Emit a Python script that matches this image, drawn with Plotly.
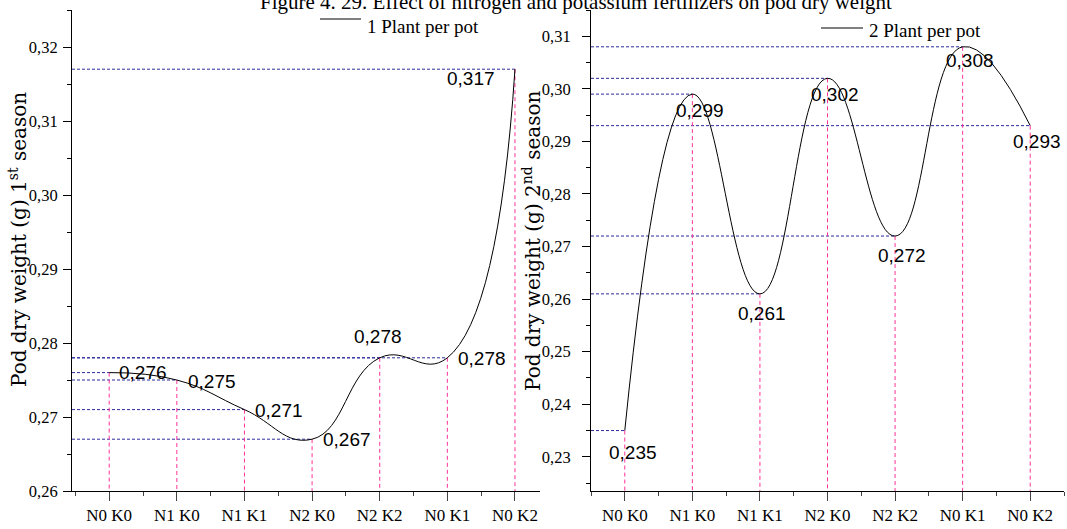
import plotly.graph_objects as go

# ---------------- data ----------------
categories = ["N0 K0", "N1 K0", "N1 K1", "N2 K0", "N2 K2", "N0 K1", "N0 K2"]
season1 = [0.276, 0.275, 0.271, 0.267, 0.278, 0.278, 0.317]   # 1 plant per pot
season2 = [0.235, 0.299, 0.261, 0.302, 0.272, 0.308, 0.293]   # 2 plants per pot
series1_name = "1 Plant per pot"
series2_name = "2 Plant per pot"
title_text = "Figure 4. 29. Effect of nitrogen and potassium fertilizers on pod dry weight"
ytitle1 = "Pod dry weight (g) 1<sup>st</sup> season"
ytitle2 = "Pod dry weight (g) 2<sup>nd</sup> season"

# ---------------- styles ----------------
W, H = 1067, 529
M_T, M_B = 10, 38
PH = H - M_T - M_B
xr1 = [0.45, 7.37]
xr2 = [0.5, 7.5]
yr1 = [0.26, 0.325]
yr2 = [0.2235, 0.315]
navy = "#2a2a9c"
pink = "#ff3399"
serif = "Liberation Serif, Times New Roman, serif"
wserif = "DejaVu Serif, serif"
sans = "Liberation Sans, Arial, sans-serif"

# label placement (xanchor, xshift, yshift) per point
lab1 = [("left", 8, 0), ("left", 9, -1), ("left", 9, -1), ("left", 9, 0),
        ("center", -2, 21), ("left", 9, -1), ("right", -18, -9)]
lab2 = [("center", 8, -22), ("center", 8, -16), ("center", 2, -20), ("center", 7, -16),
        ("center", 7, -19), ("center", 7, -14), ("center", 7, -16)]

xs = list(range(1, len(categories) + 1))


def fmt(v):
    return f"{v:.3f}".replace(".", ",")


fig = go.Figure()


def add_panel(vals, xr, yr, xa, ya, labs, name):
    hx, hy, vx, vy = [], [], [], []
    for x, v in zip(xs, vals):
        hx += [xr[0], x, None]
        hy += [v, v, None]
        vx += [x, x, None]
        vy += [v, yr[0], None]
    fig.add_trace(go.Scatter(x=hx, y=hy, mode="lines", xaxis=xa, yaxis=ya, showlegend=False,
                             hoverinfo="skip", line=dict(color=navy, width=1, dash="3px,2px")))
    fig.add_trace(go.Scatter(x=vx, y=vy, mode="lines", xaxis=xa, yaxis=ya, showlegend=False,
                             hoverinfo="skip", line=dict(color=pink, width=1, dash="4px,3px")))
    fig.add_trace(go.Scatter(x=xs, y=vals, mode="lines", xaxis=xa, yaxis=ya, name=name,
                             showlegend=False,
                             line=dict(color="black", width=1, shape="spline", smoothing=1.3)))
    for x, v, (anc, dx, dy) in zip(xs, vals, labs):
        fig.add_annotation(x=x, y=v, xref=xa, yref=ya, text=fmt(v), showarrow=False,
                           xanchor=anc, yanchor="middle", xshift=dx, yshift=dy,
                           font=dict(family=sans, size=19, color="black"))


add_panel(season1, xr1, yr1, "x", "y", lab1, series1_name)
add_panel(season2, xr2, yr2, "x2", "y2", lab2, series2_name)


def px2py(py):
    return 1 - (py - M_T) / PH


def px2x(px):
    return px / W


xaxis_common = dict(
    tickmode="array", tickvals=xs, ticktext=categories, ticks="outside", ticklen=9,
    tickcolor="#444", tickwidth=1, showline=True, linecolor="black", linewidth=1,
    showgrid=False, zeroline=False, tickfont=dict(family=serif, size=17, color="black"),
    minor=dict(tickmode="array", tickvals=[x - 0.5 for x in xs] + [xs[-1] + 0.5],
               ticklen=4, tickcolor="#444", ticks="outside"),
)
yaxis_common = dict(
    dtick=0.01, tickformat=".2f", ticks="outside", ticklen=8, tickcolor="black",
    showline=True, linecolor="black", linewidth=1, showgrid=False, zeroline=False,
    tickfont=dict(family=serif, size=16.5, color="black"),
    minor=dict(dtick=0.005, ticklen=4, tickcolor="black", ticks="outside"),
)

fig.update_layout(
    width=W, height=H, margin=dict(l=0, r=0, t=M_T, b=M_B),
    paper_bgcolor="white", plot_bgcolor="white", separators=",.",
    showlegend=False,
    xaxis=dict(domain=[px2x(72), px2x(540)], range=xr1, anchor="y", **xaxis_common),
    yaxis=dict(domain=[0, 1], range=yr1, anchor="x", ticklabelstandoff=2, **yaxis_common),
    xaxis2=dict(domain=[px2x(591), px2x(1064)], range=xr2, anchor="y2", **xaxis_common),
    yaxis2=dict(domain=[0, 1], range=yr2, anchor="x2", ticklabelstandoff=8, **yaxis_common),
)

# title
fig.add_annotation(x=px2x(576), y=px2py(2), xref="paper", yref="paper", text=title_text,
                   showarrow=False, xanchor="center", yanchor="middle",
                   font=dict(family=serif, size=21, color="black"))
# y titles
fig.add_annotation(x=px2x(18), y=px2py(240), xref="paper", yref="paper", text=ytitle1,
                   textangle=-90, showarrow=False, xanchor="center", yanchor="middle",
                   font=dict(family=wserif, size=20, color="black"))
fig.add_annotation(x=px2x(532), y=px2py(241), xref="paper", yref="paper", text=ytitle2,
                   textangle=-90, showarrow=False, xanchor="center", yanchor="middle",
                   font=dict(family=wserif, size=20, color="black"))

# legend-like keys
for (lx0, lx1, ly, tx, ty, name) in [(320, 361, 19, 365, 26, series1_name),
                                      (821, 863, 28, 867, 30, series2_name)]:
    fig.add_shape(type="line", xref="paper", yref="paper", x0=px2x(lx0), x1=px2x(lx1),
                  y0=px2py(ly), y1=px2py(ly), line=dict(color="black", width=1))
    fig.add_annotation(x=px2x(tx), y=px2py(ty), xref="paper", yref="paper", text=name,
                       showarrow=False, xanchor="left", yanchor="middle",
                       font=dict(family=serif, size=19, color="black"))

fig.write_html("out.html")
